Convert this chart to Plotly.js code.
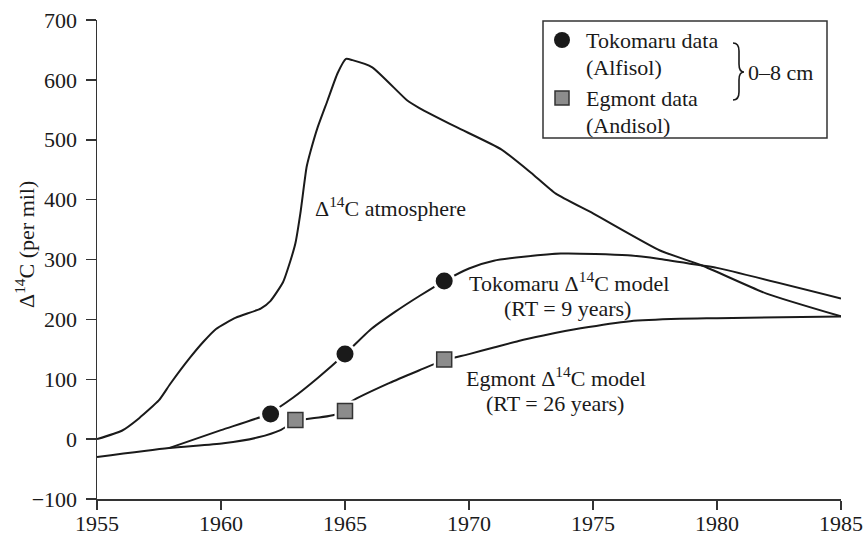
<!DOCTYPE html>
<html>
<head>
<meta charset="utf-8">
<script src="https://cdn.plot.ly/plotly-3.0.1.min.js"></script>
<style>html,body{margin:0;padding:0;background:#fff;}#chart{width:864px;height:535px;}</style>
</head>
<body>
<div id="chart"></div>
<script>
// ---- data ----
var atmYears = [1955,1956,1956.7,1957.5,1957.95,1958.75,1959.3,1959.8,1960.6,1961.6,1962,1962.5,1962.8,1963.0,1963.2,1963.45,1963.6,1963.9,1964.3,1964.7,1965.04,1965.3,1966.1,1967.5,1968.0,1969.5,1971.3,1972.5,1973.5,1975,1977.7,1979.4,1982,1985];
var atmValues = [0,14,35,65,92,136,163,184,203,218,231,262,298,327,377,454,479,521,566,611,635,633,621,566,553,521,484,445,410,377,315,290,243,205];

var tokModelYears = [1957.9,1960,1961.9,1962.9,1963.9,1965,1966,1967,1968,1969,1970,1971,1973.7,1976.4,1977.7,1979.4,1980,1985];
var tokModelValues = [-15,15,42,69,102,142,182,212,239,264,285,298,310,307,301,290,286,235];

var egmModelYears = [1955,1957.9,1960.1,1961.5,1962.4,1963,1964.7,1965.3,1966.8,1968,1969,1970,1971,1972,1973,1974.5,1976.5,1978.5,1980,1985];
var egmModelValues = [-30,-15,-7,3,15,30,42,64,94,115,132,142,153,164,173,185,197,201,202,205];

var tokDataYears = [1962,1965,1969];
var tokDataValues = [42,142,264];
var egmDataYears = [1963,1965,1969];
var egmDataValues = [32,47,133];

var xTicks = [1955,1960,1965,1970,1975,1980,1985];
var yTicks = [-100,0,100,200,300,400,500,600,700];

// ---- layout helpers (pixel -> paper) ----
var L = 97, R = 841, T = 20, B = 499;
function X(px){ return (px - L) / (R - L); }
function Y(py){ return (B - py) / (B - T); }
function P(px,py){ return X(px).toFixed(5) + ',' + Y(py).toFixed(5); }

var FONT = "'Liberation Serif', 'Times New Roman', serif";
var FS = 22;
var INK = '#1a1a1a';

var traces = [
  {x: atmYears, y: atmValues, mode: 'lines', line: {color: INK, width: 2, shape: 'spline', smoothing: 0.5}, hoverinfo: 'skip'},
  {x: tokModelYears, y: tokModelValues, mode: 'lines', line: {color: INK, width: 2, shape: 'spline', smoothing: 0.6}, hoverinfo: 'skip'},
  {x: egmModelYears, y: egmModelValues, mode: 'lines', line: {color: INK, width: 2, shape: 'spline', smoothing: 0.6}, hoverinfo: 'skip'},
  // white halos around the data markers
  {x: tokDataYears, y: tokDataValues, mode: 'markers', marker: {symbol: 'circle', size: 23, color: '#fff'}, hoverinfo: 'skip'},
  {x: egmDataYears, y: egmDataValues, mode: 'markers', marker: {symbol: 'square', size: 21, color: '#fff'}, hoverinfo: 'skip'},
  // data markers
  {x: tokDataYears, y: tokDataValues, mode: 'markers', marker: {symbol: 'circle', size: 17, color: INK}},
  {x: egmDataYears, y: egmDataValues, mode: 'markers', marker: {symbol: 'square', size: 15, color: '#8c8c8c', line: {color: '#333', width: 1.5}}}
];

var annFont = {family: FONT, size: FS, color: INK};
function ann(text, px, py, anchor){
  return {text: text, xref: 'paper', yref: 'paper', x: X(px), y: Y(py), xanchor: anchor || 'center', yanchor: 'middle', showarrow: false, font: annFont};
}

var annotations = [
  ann('\u0394<sup>14</sup>C atmosphere', 390, 207),
  ann('Tokomaru \u0394<sup>14</sup>C model', 569, 282),
  ann('(RT = 9 years)', 567, 308),
  ann('Egmont \u0394<sup>14</sup>C model', 556, 377),
  ann('(RT = 26 years)', 555, 403),
  ann('Tokomaru data', 584, 40, 'left'),
  ann('(Alfisol)', 584, 67, 'left'),
  ann('Egmont data', 584, 98, 'left'),
  ann('(Andisol)', 584, 125, 'left'),
  ann('0\u20138 cm', 746, 72, 'left')
];
// y-axis title
var yt = ann('\u0394<sup>14</sup>C (per mil)', 25, 245);
yt.textangle = -90;
annotations.push(yt);

var brace = 'M ' + P(733,43) + ' Q ' + P(739,43) + ' ' + P(739,51) +
            ' L ' + P(739,64) + ' Q ' + P(739,72) + ' ' + P(744,72) +
            ' Q ' + P(739,72) + ' ' + P(739,80) +
            ' L ' + P(739,92) + ' Q ' + P(739,100) + ' ' + P(733,100);

var shapes = [
  {type: 'rect', xref: 'paper', yref: 'paper', x0: X(543), x1: X(827), y0: Y(138), y1: Y(21), line: {color: '#333', width: 1.5}, fillcolor: '#fff', layer: 'above'},
  {type: 'circle', xref: 'paper', yref: 'paper', x0: X(554), x1: X(570), y0: Y(48), y1: Y(32), line: {width: 0}, fillcolor: INK, layer: 'above'},
  {type: 'rect', xref: 'paper', yref: 'paper', x0: X(555), x1: X(569), y0: Y(105), y1: Y(91), line: {color: '#333', width: 1.5}, fillcolor: '#8c8c8c', layer: 'above'},
  {type: 'path', xref: 'paper', yref: 'paper', path: brace, line: {color: INK, width: 1.6}, layer: 'above'}
];

var layout = {
  width: 864, height: 535,
  margin: {l: L, r: 864 - R, t: T, b: 535 - B, pad: 0},
  paper_bgcolor: '#fff', plot_bgcolor: '#fff',
  showlegend: false,
  font: {family: FONT, size: FS, color: INK},
  xaxis: {
    range: [1955, 1985], tickvals: xTicks, ticktext: xTicks.map(String),
    showgrid: false, zeroline: false, showline: true, linecolor: '#333', linewidth: 1.5,
    ticks: 'outside', ticklen: 9, tickwidth: 1.5, tickcolor: '#333',
    ticklabelstandoff: -5,
    tickfont: {family: FONT, size: FS, color: INK}, fixedrange: true
  },
  yaxis: {
    range: [-100, 700], tickvals: yTicks,
    showgrid: false, zeroline: false, showline: true, linecolor: '#333', linewidth: 1.5,
    ticks: 'outside', ticklen: 10, tickwidth: 1.5, tickcolor: '#333',
    ticklabelstandoff: 4,
    tickfont: {family: FONT, size: FS, color: INK}, fixedrange: true
  },
  annotations: annotations,
  shapes: shapes
};

Plotly.newPlot('chart', traces, layout, {displayModeBar: false, staticPlot: true});
</script>
</body>
</html>
